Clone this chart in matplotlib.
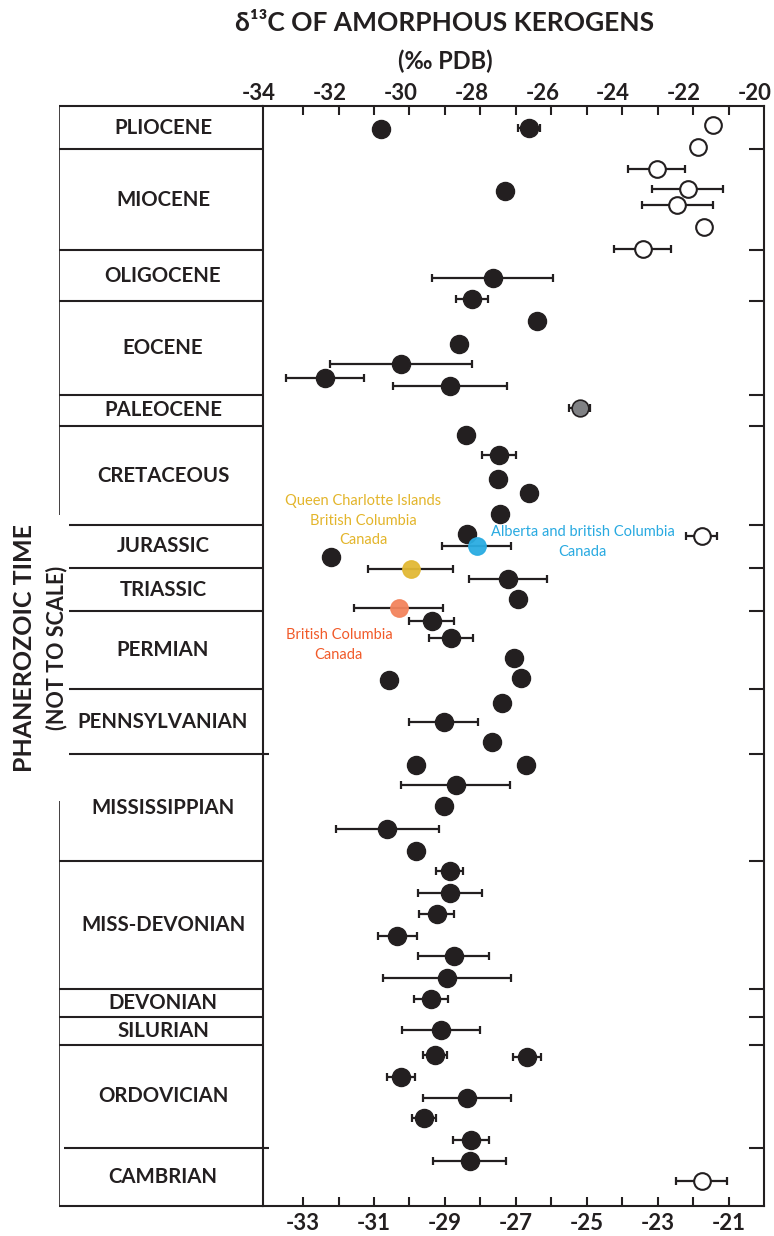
import matplotlib
matplotlib.use('Agg')
import matplotlib.pyplot as plt
import matplotlib.transforms as mtransforms
import numpy as np

plt.rcParams['font.family'] = ['Lato', 'DejaVu Sans']

INK = '#231f20'

# geological periods, youngest first, with the boundaries between them
# on a relative (not to scale) time axis running 0 (top) .. 110 (bottom)
periods = ['PLIOCENE', 'MIOCENE', 'OLIGOCENE', 'EOCENE', 'PALEOCENE',
           'CRETACEOUS', 'JURASSIC', 'TRIASSIC', 'PERMIAN', 'PENNSYLVANIAN',
           'MISSISSIPPIAN', 'MISS-DEVONIAN', 'DEVONIAN', 'SILURIAN',
           'ORDOVICIAN', 'CAMBRIAN']
boundaries = [4.3, 14.4, 19.5, 28.9, 32.0, 41.9, 46.2, 50.5, 58.3, 64.8,
              75.5, 88.3, 91.1, 93.9, 104.2]
time_span = 110

# marine amorphous kerogens (filled): d13C, relative age, +/- spread
solid_d13c = [-30.80, -26.63, -27.31, -27.65, -28.24, -26.41, -28.61, -30.24,
              -32.38, -28.86, -28.41, -27.48, -27.51, -26.63, -27.45, -28.38,
              -32.21, -27.23, -26.94, -29.37, -28.83, -27.06, -26.86, -30.58,
              -27.39, -29.03, -27.68, -29.82, -26.72, -28.69, -29.03, -30.63,
              -29.82, -28.86, -28.86, -29.23, -30.35, -28.75, -28.94, -29.39,
              -29.11, -29.28, -26.69, -30.24, -28.38, -29.59, -28.27, -28.30]
solid_age = [2.3, 2.2, 8.5, 17.2, 19.3, 21.5, 23.8, 25.8, 27.2, 28.0, 32.9,
             34.9, 37.3, 38.7, 40.8, 42.8, 45.1, 47.3, 49.3, 51.5, 53.2, 55.2,
             57.2, 57.4, 59.7, 61.6, 63.6, 65.9, 65.9, 67.9, 70.0, 72.3, 74.5,
             76.5, 78.7, 80.8, 83.0, 85.0, 87.2, 89.3, 92.4, 94.9, 95.1, 97.1,
             99.2, 101.2, 103.4, 105.5]
solid_err = [0, 0.31, 0, 1.7, 0.45, 0, 0, 2.0, 1.1, 1.6, 0, 0.48, 0, 0, 0, 0,
             0, 1.1, 0, 0.63, 0.62, 0, 0, 0, 0, 0.97, 0, 0, 0, 1.54, 0, 1.45,
             0, 0.38, 0.9, 0.5, 0.55, 1.0, 1.8, 0.48, 1.1, 0.33, 0.4, 0.4,
             1.24, 0.34, 0.5, 1.03]

# non-marine kerogens (open)
open_d13c = [-21.45, -21.87, -23.03, -22.15, -22.44, -21.70, -23.42, -21.76, -21.76]
open_age = [1.9, 4.1, 6.3, 8.3, 9.9, 12.1, 14.3, 43.0, 107.5]
open_err = [0, 0, 0.8, 1.0, 1.0, 0, 0.8, 0.44, 0.72]

# single highlighted samples
paleocene_d13c, paleocene_age, paleocene_err = -25.20, 30.2, 0.3
regional = [
    # d13C, age, err, marker colour, label colour, label, label x, label y
    (-29.96, 46.3, 1.2, '#e2b935', '#e3b52b',
     'Queen Charlotte Islands\nBritish Columbia\nCanada', -31.31, 41.5),
    (-28.10, 44.0, 0.97, '#2aace2', '#29aae1',
     'Alberta and british Columbia\nCanada', -25.11, 43.6),
    (-30.30, 50.2, 1.25, '#f3845d', '#f15a29',
     'British Columbia\nCanada', -31.99, 53.9),
]

bottom_ticks = np.arange(-33, -20)
top_labels = np.arange(-34, -19, 2)

fig = plt.figure(figsize=(7.74, 12.36), dpi=100)
W, H = 774, 1236
ax = fig.add_axes([263 / W, 30 / H, 501 / W, 1100 / H])
ax_t = fig.add_axes([59 / W, 30 / H, 204 / W, 1100 / H])

ax.set_xlim(-34.13, -20.0)
ax.set_ylim(time_span, 0)
for s in ax.spines.values():
    s.set_linewidth(1.5)
    s.set_color(INK)

ax.set_xticks(bottom_ticks,
              labels=[f'-{abs(v)}' if v % 2 else '' for v in bottom_ticks],
              fontsize=16, fontweight='bold', color=INK)
ax.tick_params(axis='x', direction='in', length=6.5, width=1.5, color=INK,
               top=True, bottom=True, pad=5)
ax.yaxis.tick_right()
ax.set_yticks(boundaries, labels=[])
ax.tick_params(axis='y', direction='in', length=11, width=1.5, color=INK,
               left=False, right=True)

# top scale labels sit a little left of the tick marks
top_trans = mtransforms.offset_copy(ax.get_xaxis_transform(), fig=fig, x=-9, y=2,
                                    units='dots')
for v in top_labels:
    ax.text(v, 1.0, f'-{abs(v)}', transform=top_trans, ha='center', va='bottom',
            fontsize=16, fontweight='bold', color=INK, clip_on=False)

err_kw = dict(fmt='none', ecolor=INK, elinewidth=1.6, capsize=3, capthick=1.6,
              zorder=2)

sd = np.array(solid_d13c)
sa = np.array(solid_age)
se = np.array(solid_err)
m = se > 0
ax.errorbar(sd[m], sa[m], xerr=se[m], **err_kw)
ax.plot(sd, sa, 'o', ms=13, mfc=INK, mec=INK, zorder=3)

od = np.array(open_d13c)
oa = np.array(open_age)
oe = np.array(open_err)
m = oe > 0
ax.errorbar(od[m], oa[m], xerr=oe[m], **err_kw)
ax.plot(od, oa, 'o', ms=12, mfc='white', mec=INK, mew=1.5, zorder=3)

ax.errorbar([paleocene_d13c], [paleocene_age], xerr=[paleocene_err], **err_kw)
ax.plot([paleocene_d13c], [paleocene_age], 'o', ms=12, mfc='#808184', mec=INK,
        mew=1.2, zorder=3)

for d, a, e, mc, tc, label, lx, ly in regional:
    ax.errorbar([d], [a], xerr=[e], **err_kw)
    ax.plot([d], [a], 'o', ms=12.5, mfc=mc, mec=mc, alpha=0.95, zorder=3)
    ax.text(lx, ly, label, color=tc, ha='center', va='center', fontsize=10.5,
            linespacing=1.5, zorder=4)

# period column on the left
ax_t.set_xlim(0, 1)
ax_t.set_ylim(time_span, 0)
ax_t.axis('off')
line_kw = dict(color=INK, linewidth=1.5, clip_on=False)
ax_t.hlines([0, time_span], 0, 1, **line_kw)
gap = (40.9, 69.5)  # break in the outer border for the vertical title
ax_t.vlines(0, 0, gap[0], color=INK, linewidth=1.2)
ax_t.vlines(0, gap[1], time_span, color=INK, linewidth=1.2)
for i, b in enumerate(boundaries):
    x0 = 0.05 if gap[0] < b < gap[1] else 0.0
    x1 = 1.0
    if periods[i + 1] in ('MISSISSIPPIAN', 'CAMBRIAN'):
        x1 = 1.03
        if periods[i + 1] == 'CAMBRIAN':
            x0 = 0.025
    ax_t.hlines(b, x0, x1, **line_kw)

edges = [0] + boundaries + [time_span]
for name, top, bot in zip(periods, edges[:-1], edges[1:]):
    ax_t.text(0.51, (top + bot) / 2, name, ha='center', va='center',
              fontsize=14.7, fontweight='bold', color=INK)

fig.text(25 / W, 1 - 648 / H, 'PHANEROZOIC TIME', rotation=90, ha='center',
         va='center', fontsize=18, fontweight='bold', color=INK)
fig.text(57 / W, 1 - 648 / H, '(NOT TO SCALE)', rotation=90, ha='center',
         va='center', fontsize=15.5, fontweight='bold', color=INK)

fig.text(445 / W, 1 - 23 / H, 'δ¹³C OF AMORPHOUS KEROGENS', ha='center',
         va='center', fontsize=19, fontweight='bold', color=INK)
fig.text(445 / W, 1 - 61 / H, '(‰ PDB)', ha='center', va='center',
         fontsize=17, fontweight='bold', color=INK)

fig.savefig('out.png', dpi=100)
